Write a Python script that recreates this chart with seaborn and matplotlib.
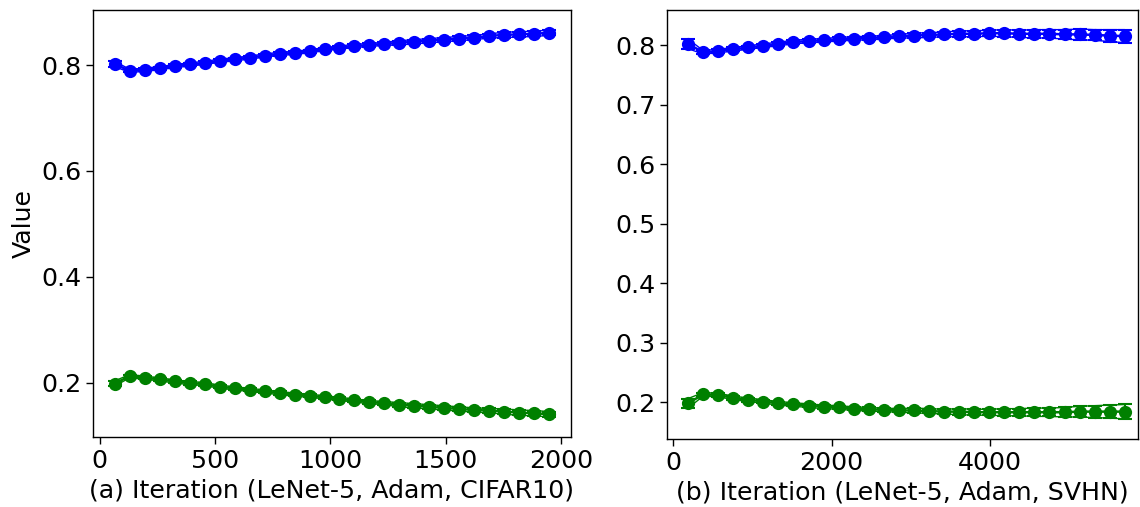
import numpy as np
import pandas as pd
import matplotlib
matplotlib.use("Agg")
import matplotlib.pyplot as plt
import seaborn as sns

# ---- data: LeNet-5 / Adam on CIFAR10 ----
iter_cifar = [65 * k for k in range(1, 31)]
blue_cifar = [0.802, 0.789, 0.791, 0.794, 0.798, 0.801, 0.804, 0.808, 0.811, 0.814,
              0.818, 0.821, 0.823, 0.826, 0.830, 0.833, 0.836, 0.838, 0.840, 0.842,
              0.844, 0.846, 0.848, 0.850, 0.852, 0.855, 0.857, 0.858, 0.859, 0.861]
blue_cifar_err = [0.005, 0.003, 0.003, 0.003, 0.003, 0.003, 0.003, 0.003, 0.003, 0.003,
                  0.003, 0.003, 0.003, 0.003, 0.003, 0.003, 0.003, 0.003, 0.003, 0.004,
                  0.004, 0.004, 0.004, 0.004, 0.004, 0.004, 0.005, 0.005, 0.005, 0.005]
green_cifar = [0.198, 0.212, 0.209, 0.206, 0.202, 0.199, 0.197, 0.192, 0.189, 0.186,
               0.183, 0.180, 0.177, 0.175, 0.172, 0.169, 0.166, 0.163, 0.161, 0.158,
               0.156, 0.154, 0.152, 0.150, 0.148, 0.147, 0.145, 0.143, 0.142, 0.140]
green_cifar_err = [0.005, 0.003, 0.003, 0.003, 0.003, 0.003, 0.003, 0.003, 0.003, 0.003,
                   0.003, 0.003, 0.003, 0.003, 0.003, 0.003, 0.003, 0.003, 0.003, 0.004,
                   0.004, 0.004, 0.004, 0.004, 0.004, 0.004, 0.005, 0.005, 0.005, 0.005]

# ---- data: LeNet-5 / Adam on SVHN ----
iter_svhn = [190 * k for k in range(1, 31)]
blue_svhn = [0.802, 0.788, 0.790, 0.793, 0.796, 0.799, 0.802, 0.805, 0.807, 0.808,
             0.810, 0.811, 0.812, 0.813, 0.815, 0.816, 0.817, 0.818, 0.819, 0.819,
             0.820, 0.820, 0.819, 0.819, 0.819, 0.818, 0.818, 0.817, 0.816, 0.815]
blue_svhn_err = [0.008, 0.003, 0.003, 0.003, 0.003, 0.003, 0.003, 0.003, 0.003, 0.003,
                 0.003, 0.003, 0.003, 0.003, 0.003, 0.004, 0.004, 0.004, 0.005, 0.005,
                 0.005, 0.006, 0.006, 0.007, 0.007, 0.008, 0.009, 0.009, 0.010, 0.011]
green_svhn = [0.198, 0.213, 0.212, 0.207, 0.204, 0.201, 0.198, 0.196, 0.194, 0.192,
              0.191, 0.189, 0.188, 0.187, 0.186, 0.186, 0.185, 0.184, 0.184, 0.183,
              0.183, 0.183, 0.183, 0.183, 0.183, 0.183, 0.184, 0.184, 0.184, 0.184]
green_svhn_err = [0.008, 0.003, 0.003, 0.003, 0.003, 0.003, 0.003, 0.003, 0.003, 0.003,
                  0.003, 0.003, 0.003, 0.003, 0.003, 0.004, 0.004, 0.004, 0.005, 0.005,
                  0.005, 0.006, 0.006, 0.007, 0.007, 0.008, 0.009, 0.010, 0.011, 0.012]

xlabels = ["(a) Iteration (LeNet-5, Adam, CIFAR10)",
           "(b) Iteration (LeNet-5, Adam, SVHN)"]

sns.set_style("ticks")
plt.rcParams["font.family"] = ["DejaVu Sans"]
plt.rcParams["font.size"] = 18.2
plt.rcParams["text.color"] = "black"
plt.rcParams["axes.labelcolor"] = "black"
plt.rcParams["xtick.color"] = "black"
plt.rcParams["ytick.color"] = "black"

fig = plt.figure(figsize=(11.4, 5.07), dpi=100)
ax1 = fig.add_axes([93 / 1140, 70 / 507, 478 / 1140, 427 / 507])
ax2 = fig.add_axes([667 / 1140, 68 / 507, 471 / 1140, 429 / 507])


def draw_series(ax, x, y, err, color):
    x = np.asarray(x)
    y = np.asarray(y)
    err = np.asarray(err)
    df = pd.DataFrame({"x": x, "y": y, "lo": y - err, "hi": y + err})
    # mean±err bounds as thin lines
    sns.lineplot(data=df, x="x", y="hi", ax=ax, color=color, lw=1.0)
    sns.lineplot(data=df, x="x", y="lo", ax=ax, color=color, lw=1.0)
    ax.errorbar(x, y, yerr=err, fmt="none", ecolor=color, elinewidth=1.5,
                capsize=5, capthick=1.5)
    sns.lineplot(data=df, x="x", y="y", ax=ax, color=color, lw=1.8,
                 marker="o", markersize=9.5, markeredgewidth=0)


draw_series(ax1, iter_cifar, blue_cifar, blue_cifar_err, "blue")
draw_series(ax1, iter_cifar, green_cifar, green_cifar_err, "green")
draw_series(ax2, iter_svhn, blue_svhn, blue_svhn_err, "blue")
draw_series(ax2, iter_svhn, green_svhn, green_svhn_err, "green")

ax1.set_xlim(-29, 2044)
ax1.set_ylim(0.097, 0.904)
ax1.set_xticks([0, 500, 1000, 1500, 2000])
ax1.set_yticks([0.2, 0.4, 0.6, 0.8])
ax1.set_ylabel("Value")
ax1.set_xlabel(xlabels[0])

ax2.set_xlim(-76, 5867)
ax2.set_ylim(0.138, 0.859)
ax2.set_xticks([0, 2000, 4000])
ax2.set_yticks([0.2, 0.3, 0.4, 0.5, 0.6, 0.7, 0.8])
ax2.set_ylabel("")
ax2.set_xlabel(xlabels[1])

for ax in (ax1, ax2):
    for s in ax.spines.values():
        s.set_visible(True)
        s.set_color("black")
        s.set_linewidth(1.0)
    ax.tick_params(direction="out", length=5, width=1, colors="black")
    ax.yaxis.set_major_formatter(matplotlib.ticker.FormatStrFormatter("%.1f"))

fig.savefig("out.png", dpi=100)
